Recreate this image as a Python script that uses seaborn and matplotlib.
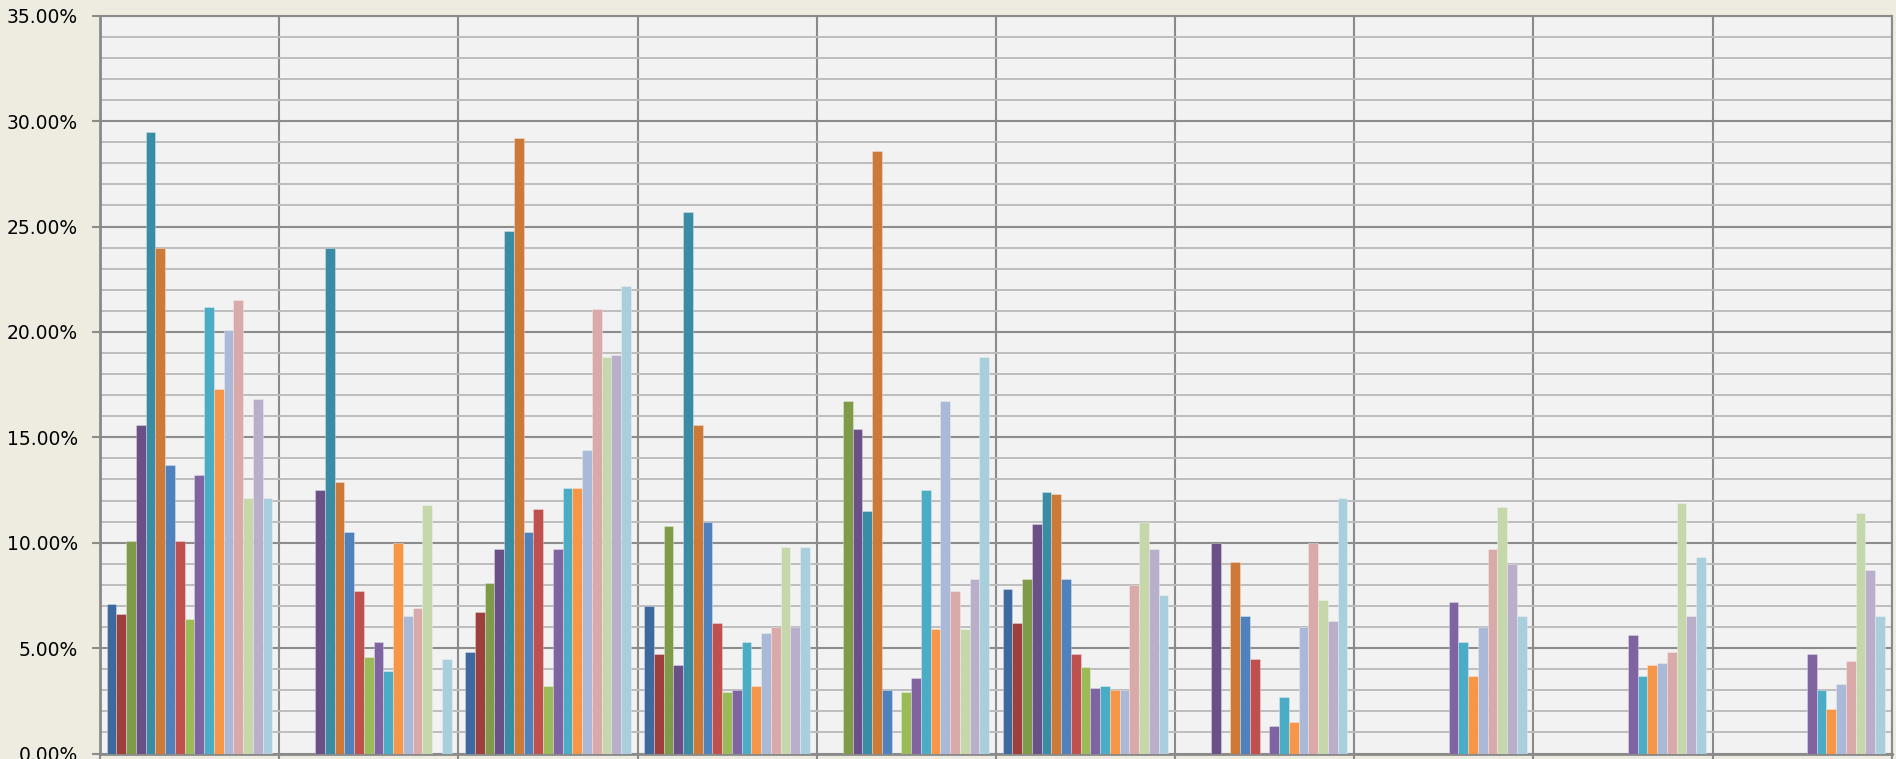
import numpy as np
import pandas as pd
import matplotlib
matplotlib.use("Agg")
import matplotlib.pyplot as plt
from matplotlib.ticker import MultipleLocator, PercentFormatter
import seaborn as sns

# ---- data (percent) ----
groups = ["1", "2", "3", "4", "5", "6", "7", "8", "9", "10"]
series = ["S1", "S2", "S3", "S4", "S5", "S6", "S7", "S8", "S9",
          "S10", "S11", "S12", "S13", "S14", "S15", "S16", "S17"]
colors = ["#3E699E", "#9C3F3D", "#7F9A48", "#6A5087", "#3A8CA5", "#CD7A38",
          "#4F81BD", "#C0504D", "#9BBB59", "#8064A2", "#4BACC6", "#F79646",
          "#AAB9D7", "#D9AAA9", "#C6D7AC", "#B9AFCB", "#A9CFDC"]

g1 = [7.1, 6.6, 10.1, 15.6, 29.5, 24.0, 13.7, 10.1, 6.4, 13.2, 21.2, 17.3, 20.1, 21.5, 12.1, 16.8, 12.1]
g2 = [None, None, None, 12.5, 24.0, 12.9, 10.5, 7.7, 4.6, 5.3, 3.9, 10.0, 6.5, 6.9, 11.8, None, 4.5]
g3 = [4.8, 6.7, 8.1, 9.7, 24.8, 29.2, 10.5, 11.6, 3.2, 9.7, 12.6, 12.6, 14.4, 21.1, 18.8, 18.9, 22.2]
g4 = [7.0, 4.7, 10.8, 4.2, 25.7, 15.6, 11.0, 6.2, 2.9, 3.0, 5.3, 3.2, 5.7, 6.0, 9.8, 6.0, 9.8]
g5 = [None, None, 16.7, 15.4, 11.5, 28.6, 3.0, None, 2.9, 3.6, 12.5, 5.9, 16.7, 7.7, 5.9, 8.3, 18.8]
g6 = [7.8, 6.2, 8.3, 10.9, 12.4, 12.3, 8.3, 4.7, 4.1, 3.1, 3.2, 3.0, 3.0, 8.0, 11.0, 9.7, 7.5]
g7 = [None, None, None, 10.0, None, 9.1, 6.5, 4.5, None, 1.3, 2.7, 1.5, 6.0, 10.0, 7.3, 6.3, 12.1]
g8 = [None, None, None, None, None, None, None, None, None, 7.2, 5.3, 3.7, 6.0, 9.7, 11.7, 9.0, 6.5]
g9 = [None, None, None, None, None, None, None, None, None, 5.6, 3.7, 4.2, 4.3, 4.8, 11.9, 6.5, 9.3]
g10 = [None, None, None, None, None, None, None, None, None, 4.7, 3.0, 2.1, 3.3, 4.4, 11.4, 8.7, 6.5]

y_ticks_max = 35

values = [g1, g2, g3, g4, g5, g6, g7, g8, g9, g10]
rows = []
for g, vals in zip(groups, values):
    for s, v in zip(series, vals):
        rows.append({"group": g, "series": s, "value": np.nan if v is None else v})
df = pd.DataFrame(rows)

sns.set_style("white")
plt.rcParams["font.family"] = ["DejaVu Sans"]

fig = plt.figure(figsize=(18.96, 7.59), dpi=100, facecolor="#EEECE1")
ax = fig.add_axes([100 / 1896, 5.5 / 759, 1791.7 / 1896, 737.8 / 759])
ax.set_facecolor("#F2F2F2")

sns.barplot(data=df, x="group", y="value", hue="series", order=groups,
            hue_order=series, palette=colors, width=0.925, gap=0,
            saturation=1, errorbar=None, legend=False, ax=ax,
            edgecolor=(1, 1, 1, 0.35), linewidth=0.6, zorder=3)

ax.set_xlim(-0.5, len(groups) - 0.5)
ax.set_ylim(0, y_ticks_max)
ax.yaxis.set_major_locator(MultipleLocator(5))
ax.yaxis.set_minor_locator(MultipleLocator(1))
ax.yaxis.set_major_formatter(PercentFormatter(xmax=100, decimals=2))
ax.set_xticks(np.arange(-0.5, len(groups), 1), minor=True)
ax.set_xticks([])
ax.set_xlabel("")
ax.set_ylabel("")

ax.grid(which="minor", axis="y", color="#BDBDBD", linewidth=1.4, zorder=0)
ax.grid(which="major", axis="y", color="#8C8C8C", linewidth=1.5, zorder=0)
ax.grid(which="minor", axis="x", color="#8A8A8A", linewidth=1.5, zorder=0)
ax.set_axisbelow(True)

ax.tick_params(axis="y", which="major", length=5.8, width=1.5, color="#8C8C8C",
               labelsize=13.5, labelcolor="#000000", pad=10, left=True)
ax.tick_params(axis="y", which="minor", length=0)
ax.tick_params(axis="x", which="minor", length=5, width=1.5, color="#8A8A8A",
               bottom=True)
ax.tick_params(axis="x", which="major", length=0)

for side in ["left", "bottom", "right", "top"]:
    ax.spines[side].set_visible(True)
    ax.spines[side].set_color("#8A8A8A")
ax.spines["left"].set_linewidth(2)
ax.spines["bottom"].set_linewidth(2)
ax.spines["right"].set_linewidth(1.5)
ax.spines["top"].set_linewidth(1.5)

fig.savefig("out.png", dpi=100, facecolor=fig.get_facecolor())
